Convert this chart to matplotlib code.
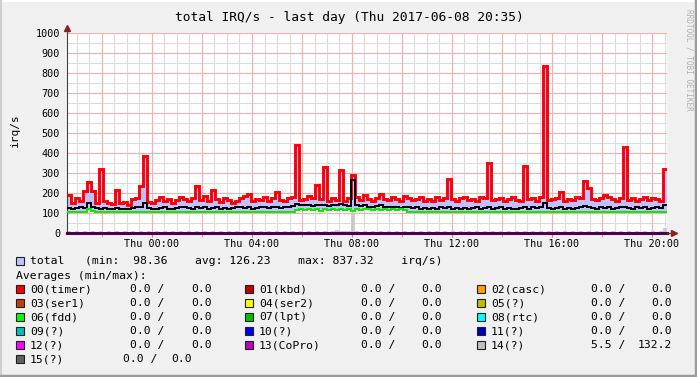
import numpy as np
import matplotlib
matplotlib.use('Agg')
import matplotlib.pyplot as plt
from matplotlib.patches import Rectangle
from matplotlib.lines import Line2D

# --- data: 150 samples over the last 24 h (Wed 20:36 -> Thu 20:36) ---
total = [190, 150, 175, 160, 210, 255, 210, 150, 320, 160,
         150, 145, 215, 150, 155, 140, 170, 175, 235, 385,
         155, 150, 165, 180, 160, 170, 150, 165, 180, 170,
         160, 175, 237, 165, 185, 160, 215, 170, 155, 175,
         165, 150, 160, 175, 185, 195, 160, 170, 165, 180,
         160, 175, 205, 165, 160, 175, 180, 438, 165, 170,
         185, 175, 240, 170, 330, 160, 175, 165, 315, 160,
         175, 290, 180, 165, 190, 170, 160, 175, 195, 170,
         165, 180, 170, 160, 185, 175, 165, 170, 180, 160,
         170, 160, 180, 165, 175, 270, 170, 160, 175, 180,
         165, 170, 160, 180, 175, 350, 165, 170, 175, 160,
         170, 180, 165, 160, 335, 170, 175, 160, 180, 837,
         165, 170, 175, 205, 160, 170, 165, 180, 175, 260,
         225, 170, 165, 175, 190, 180, 170, 160, 175, 430,
         165, 175, 160, 170, 180, 165, 175, 170, 160, 320]

other = [125, 120, 125, 130, 125, 150, 130, 125, 120, 125,
         120, 118, 125, 120, 122, 120, 125, 128, 130, 150,
         125, 120, 122, 125, 128, 122, 120, 125, 130, 128,
         125, 122, 128, 125, 130, 122, 125, 128, 120, 125,
         122, 125, 128, 130, 125, 128, 122, 125, 130, 128,
         125, 128, 130, 125, 128, 130, 135, 145, 140, 138,
         140, 135, 138, 142, 140, 135, 138, 140, 145, 138,
         135, 265, 138, 135, 140, 132, 130, 135, 138, 132,
         128, 132, 130, 125, 128, 130, 125, 128, 122, 125,
         120, 125, 122, 128, 125, 130, 122, 125, 120, 125,
         122, 125, 128, 122, 125, 130, 122, 125, 128, 122,
         125, 122, 120, 125, 130, 122, 128, 125, 130, 150,
         125, 122, 125, 128, 122, 125, 120, 125, 130, 135,
         130, 125, 122, 128, 125, 130, 122, 125, 128, 130,
         125, 122, 128, 125, 130, 122, 125, 128, 125, 140]

fdd = [105, 105, 106, 105, 106, 120, 108, 106, 105, 106,
       105, 106, 105, 106, 105, 106, 106, 105, 106, 105,
       106, 105, 106, 105, 106, 106, 105, 104, 105, 106,
       105, 106, 105, 106, 105, 106, 105, 106, 105, 106,
       105, 106, 105, 106, 106, 105, 106, 105, 106, 105,
       106, 105, 106, 106, 105, 106, 105, 116, 118, 117,
       118, 117, 118, 110, 118, 117, 118, 117, 118, 117,
       118, 112, 118, 117, 118, 119, 117, 118, 117, 118,
       117, 118, 117, 118, 117, 107, 107, 106, 107, 106,
       107, 106, 107, 106, 107, 106, 107, 106, 107, 106,
       107, 106, 107, 106, 107, 106, 107, 106, 107, 106,
       107, 106, 107, 104, 107, 106, 107, 106, 107, 106,
       107, 106, 107, 106, 107, 106, 107, 106, 107, 106,
       107, 106, 107, 106, 107, 106, 107, 106, 107, 106,
       107, 106, 107, 106, 107, 106, 107, 106, 107, 106]

irq14 = [8, 7, 8, 7, 8, 7, 8, 7, 8, 7,
         8, 7, 8, 7, 8, 7, 8, 7, 8, 7,
         8, 7, 8, 7, 8, 7, 8, 7, 8, 7,
         8, 7, 8, 7, 8, 7, 8, 7, 8, 7,
         8, 7, 8, 7, 8, 7, 8, 7, 8, 7,
         8, 7, 8, 7, 8, 7, 8, 7, 8, 7,
         8, 7, 8, 7, 8, 7, 8, 15, 10, 8,
         8, 100, 8, 7, 8, 7, 8, 7, 8, 7,
         8, 7, 8, 7, 8, 7, 8, 7, 8, 7,
         8, 7, 8, 7, 8, 7, 8, 7, 8, 7,
         8, 7, 8, 7, 8, 7, 8, 7, 8, 7,
         8, 7, 8, 7, 8, 7, 8, 7, 8, 7,
         8, 7, 8, 7, 8, 7, 8, 7, 8, 7,
         8, 7, 8, 7, 8, 7, 8, 7, 8, 7,
         8, 7, 8, 7, 8, 7, 8, 7, 10, 25]

tick_labels = ['Thu 00:00', 'Thu 04:00', 'Thu 08:00', 'Thu 12:00', 'Thu 16:00', 'Thu 20:00']

irq_names = ['00(timer)', '01(kbd)', '02(casc)', '03(ser1)', '04(ser2)', '05(?)',
             '06(fdd)', '07(lpt)', '08(rtc)', '09(?)', '10(?)', '11(?)',
             '12(?)', '13(CoPro)', '14(?)', '15(?)']
irq_min = [0.0] * 14 + [5.5, 0.0]
irq_max = [0.0] * 14 + [132.2, 0.0]
irq_colors = ['#ff0000', '#c00000', '#ffa000', '#c04000', '#ffff00', '#c0c000',
              '#00ff00', '#00c000', '#00ffff', '#00c0c0', '#0000ff', '#0000c0',
              '#ff00ff', '#c000c0', '#c0c0c0', '#606060']

W, H = 697, 377
MONO = 'DejaVu Sans Mono'
plt.rcParams['font.family'] = MONO

fig = plt.figure(figsize=(W / 100, H / 100), dpi=100, facecolor='#f0f0f0')


def px(x, y):
    return x / W, 1 - y / H


# plot area 67..667 x 33..233 px
ax = fig.add_axes([67 / W, 1 - 233 / H, 600 / W, 200 / H])
ax.set_facecolor('white')

edges = np.linspace(0, 24, len(total) + 1)
start_clock = 20.6  # Wed 20:36

# grid: minor every 30 min / 50, major every 2 h / 100
for m in np.arange(-start_clock % 0.5, 24.01, 0.5):
    ax.axvline(m, color='#dcdcdc', lw=0.8, zorder=0)
for m in np.arange(-start_clock % 2, 24.01, 2):
    ax.axvline(m, color='#f4b0b0', lw=0.8, zorder=0.5)
for v in range(50, 1001, 100):
    ax.axhline(v, color='#dcdcdc', lw=0.8, zorder=0)
for v in range(100, 1001, 100):
    ax.axhline(v, color='#f4b0b0', lw=0.8, zorder=0.5)

# series
ax.stairs(irq14, edges, baseline=0, fill=True, color='#c8c8c8', alpha=0.9, zorder=1)
ax.fill_between(edges, np.r_[fdd, fdd[-1]], np.r_[total, total[-1]], step='post',
                color='#c0c0ff', lw=0, zorder=2)
ax.stairs(total, edges, baseline=None, color='#ff0000', lw=2.1, zorder=3)
ax.stairs(other, edges, baseline=None, color='#000000', lw=1.4, zorder=4)
ax.stairs(fdd, edges, baseline=None, color='#00ee00', lw=1.4, zorder=4)
ax.plot([0, 24], [0, 0], color='#500050', lw=2.2, zorder=5, clip_on=False)

ax.set_xlim(0, 24)
ax.set_ylim(0, 1000)
for s in ['top', 'right', 'bottom']:
    ax.spines[s].set_visible(False)
ax.spines['left'].set_color('#404040')
ax.spines['left'].set_bounds(0, 1025)

# axis extensions and arrows
ax.plot([24, 24.25], [0, 0], color='#404040', lw=1, clip_on=False, zorder=5)
ax.plot([24.28], [0], marker='>', color='#902020', ms=4, clip_on=False, zorder=6)
ax.plot([0], [1025], marker='^', color='#902020', ms=4, clip_on=False, zorder=6)

major_pos = [(24 - start_clock) + 4 * i for i in range(6)]
ax.set_xticks(major_pos)
ax.set_xticklabels(tick_labels, fontsize=7.3)
ax.set_xticks(np.arange(-start_clock % 2, 24.01, 2), minor=True)
ax.tick_params(axis='x', which='both', length=3, color='#c08080', pad=1.5)
ax.set_yticks(range(0, 1001, 100))
ax.set_yticklabels([str(v) for v in range(0, 1001, 100)], fontsize=7.3)
ax.tick_params(axis='y', length=0, pad=5)

# texts
fig.text(*px(349, 17), 'total IRQ/s - last day (Thu 2017-06-08 20:35)',
         ha='center', va='center', fontsize=9.3)
fig.text(*px(15, 130), 'irq/s', ha='center', va='center', rotation=90, fontsize=8)
fig.text(*px(689, 60), 'RRDTOOL / TOBI OETIKER', ha='center', va='center',
         rotation=-90, fontsize=5.6, color='#b0b0b0')

LFS = 8.2


def swatch(x, y, color):
    fig.patches.append(Rectangle(px(x, y + 4), 8 / W, 8 / H, transform=fig.transFigure,
                                 facecolor=color, edgecolor='#202020', lw=0.8))


swatch(16, 261, '#c0c0ff')
fig.text(*px(30, 261), 'total   (min:  98.36    avg: 126.23    max: 837.32    irq/s)',
         ha='left', va='center', fontsize=LFS)
fig.text(*px(16, 276), 'Averages (min/max):', ha='left', va='center', fontsize=LFS)

col_box = [16, 245, 477]
col_slash_end = [164, 395, 625]
col_val_end = [212, 442, 672]
row_y = [289, 303, 317, 331, 345, 359]
for i, name in enumerate(irq_names):
    r, c = divmod(i, 3)
    y = row_y[r]
    swatch(col_box[c], y, irq_colors[i])
    fig.text(*px(col_box[c] + 14, y), name, ha='left', va='center', fontsize=LFS)
    if name == '15(?)':
        s_end, v_end = 157, 192
    else:
        s_end, v_end = col_slash_end[c], col_val_end[c]
    fig.text(*px(s_end, y), f'{irq_min[i]:.1f} /', ha='right', va='center', fontsize=LFS)
    fig.text(*px(v_end, y), f'{irq_max[i]:.1f}', ha='right', va='center', fontsize=LFS)

# frame around the image
fig.lines.append(Line2D([0, 1], [1 - 1 / H, 1 - 1 / H], transform=fig.transFigure,
                        color='#ffffff', lw=1.5))
fig.lines.append(Line2D([1 / W, 1 / W], [0, 1], transform=fig.transFigure,
                        color='#cfcfcf', lw=1.5))
fig.lines.append(Line2D([0, 1], [1.5 / H, 1.5 / H], transform=fig.transFigure,
                        color='#9c9c9c', lw=2.5))
fig.lines.append(Line2D([1 - 1.5 / W, 1 - 1.5 / W], [0, 1], transform=fig.transFigure,
                        color='#9c9c9c', lw=2.5))

fig.savefig('out.png', dpi=100, facecolor=fig.get_facecolor())
